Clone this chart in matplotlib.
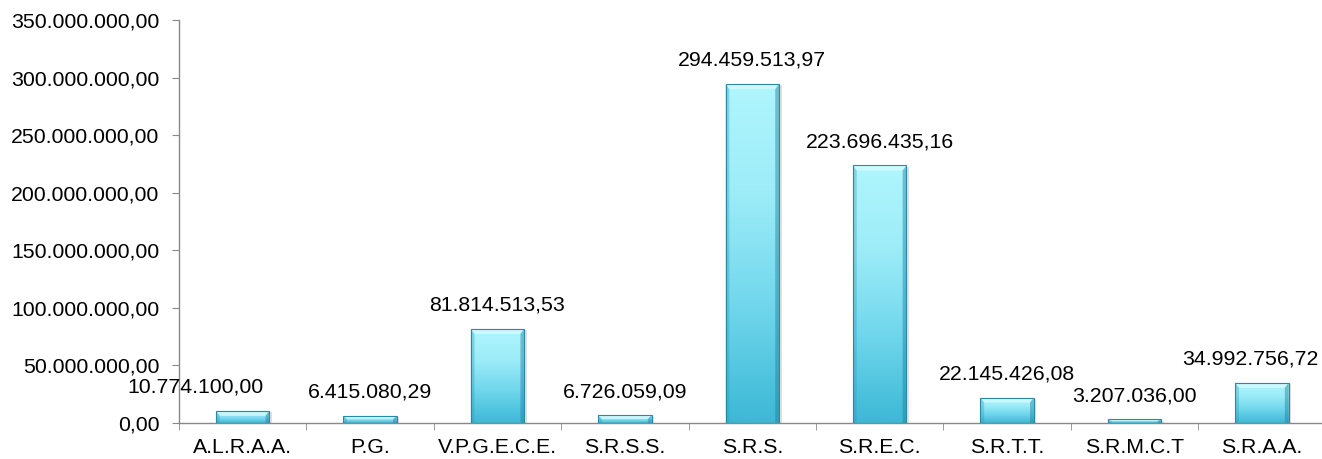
import matplotlib
matplotlib.use("Agg")
import matplotlib.pyplot as plt
import numpy as np
from matplotlib.colors import LinearSegmentedColormap

plt.rcParams['font.family'] = ['Liberation Sans', 'DejaVu Sans']

categories = ["A.L.R.A.A.", "P.G.", "V.P.G.E.C.E.", "S.R.S.S.", "S.R.S.",
              "S.R.E.C.", "S.R.T.T.", "S.R.M.C.T", "S.R.A.A."]
values = [10774100.00, 6415080.29, 81814513.53, 6726059.09, 294459513.97,
          223696435.16, 22145426.08, 3207036.00, 34992756.72]
value_labels = ["10.774.100,00", "6.415.080,29", "81.814.513,53", "6.726.059,09",
                "294.459.513,97", "223.696.435,16", "22.145.426,08", "3.207.036,00",
                "34.992.756,72"]
yticks = [0, 50e6, 100e6, 150e6, 200e6, 250e6, 300e6, 350e6]
ytick_labels = ["0,00", "50.000.000,00", "100.000.000,00", "150.000.000,00",
                "200.000.000,00", "250.000.000,00", "300.000.000,00", "350.000.000,00"]

FS = 15.3
W, H = 1322, 459
fig = plt.figure(figsize=(W / 100, H / 100), dpi=100)
left, right, top, bottom = 179, 1325.6, 20, 423
ax = fig.add_axes([left / W, 1 - bottom / H, (right - left) / W, (bottom - top) / H])

n = len(categories)
x = np.arange(n)
bw = 0.42
ax.set_xlim(-0.5, n - 0.5)
ax.set_ylim(0, 350e6)

cmap = LinearSegmentedColormap.from_list("bar", ["#3cb8d6", "#6fd6ec", "#9cecf8", "#b0f6fe"])
grad = np.linspace(0, 1, 256).reshape(-1, 1)

bars = ax.bar(x, values, width=bw, color="none", edgecolor="#2a8aa6", linewidth=0.8, zorder=3)
for b, v in zip(bars, values):
    x0 = b.get_x()
    ax.bar(b.get_x() + bw / 2 + 0.02, v, width=bw, bottom=-1.2e6, color="#000000",
           alpha=0.12, zorder=1, linewidth=0)
    im = ax.imshow(grad, extent=[x0, x0 + bw, 0, v], origin="lower", aspect="auto",
                   cmap=cmap, zorder=2)
    im.set_clip_path(b)
    bev = min(v * 0.5, 4.5e6)
    ax.fill([x0, x0 + bw, x0 + bw - 0.03, x0 + 0.03], [v, v, v - bev, v - bev],
            color="#d8fcff", alpha=0.7, zorder=2.5, linewidth=0)
    ax.fill([x0, x0 + 0.03, x0 + 0.03, x0], [0, 0, v - bev, v],
            color="#2a9cbc", alpha=0.35, zorder=2.5, linewidth=0)
    ax.fill([x0 + bw, x0 + bw - 0.03, x0 + bw - 0.03, x0 + bw], [0, 0, v - bev, v],
            color="#1f7f9a", alpha=0.45, zorder=2.5, linewidth=0)

# first and last labels are shifted in the original
label_dx = [-34, 0, 0, 0, 0, 0, 0, 0, -8.5]
for xi, v, lab, dx in zip(x, values, value_labels, label_dx):
    ax.annotate(lab, (xi, v), xytext=(dx, 17), textcoords="offset points",
                ha="center", va="center", fontsize=FS, color="#000000", zorder=5)

ax.set_yticks(yticks)
ax.set_yticklabels(ytick_labels, fontsize=FS)
ax.set_xticks(x)
ax.set_xticklabels(categories, fontsize=FS)
ax.set_xticks(np.arange(n + 1) - 0.5, minor=True)
ax.tick_params(axis="x", which="major", length=0, pad=11)
ax.tick_params(axis="x", which="minor", length=5, color="#888888", direction="out")
ax.tick_params(axis="y", length=5, color="#888888", direction="out", pad=9)

for s in ["top", "right"]:
    ax.spines[s].set_visible(False)
for s in ["left", "bottom"]:
    ax.spines[s].set_color("#888888")
    ax.spines[s].set_linewidth(1.0)

fig.savefig("out.png", dpi=100)
